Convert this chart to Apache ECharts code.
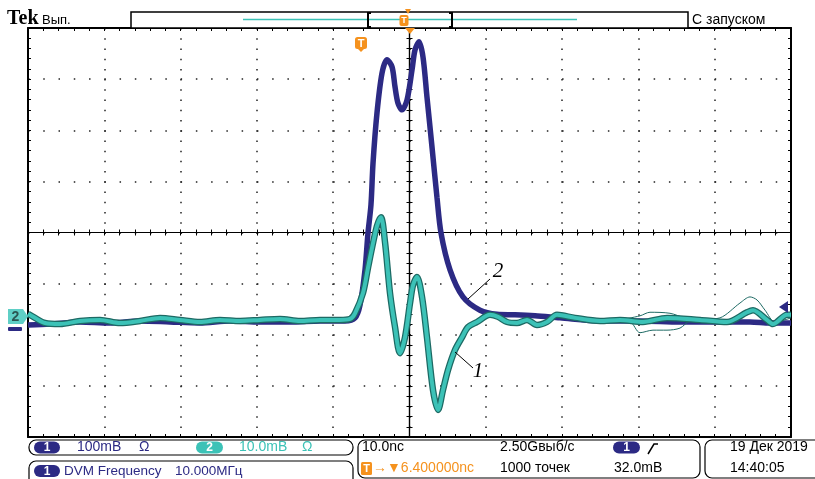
<!DOCTYPE html>
<html>
<head>
<meta charset="utf-8">
<title>Tek scope capture</title>
<script src="https://cdn.jsdelivr.net/npm/echarts@6/dist/echarts.min.js"></script>
<style>
    html, body { margin: 0; padding: 0; background: #fff; }
    #chart { width: 815px; height: 479px; }
</style>
</head>
<body>
<div id="chart"></div>
<script>
// time in ns (10 ns/div), amplitude in screen divisions
const ch1Time = [-50, -47.1, -43.2, -39.3, -35.3, -31.4, -27.5, -23.5, -19.6, -15.7, -11.7, -8.45, -7.14, -6.49, -5.83, -5.44, -5.05, -4.78, -4.26, -3.60, -2.95, -2.29, -1.90, -1.51, -0.98, -0.33, 0.33, 0.72, 1.25, 1.77, 2.29, 2.95, 3.60, 4.13, 5.31, 7.01, 9.24, 11.47, 13.83, 16.45, 19.72, 24.97, 30.21, 35.45, 40.69, 44.63, 47.25, 50];
const ch1Div = [-1.81, -1.79, -1.75, -1.77, -1.73, -1.75, -1.77, -1.73, -1.75, -1.75, -1.73, -1.73, -1.67, -1.42, -0.73, -0.01, 0.54, 1.36, 2.34, 3.12, 3.38, 3.24, 2.85, 2.53, 2.40, 2.59, 3.18, 3.57, 3.73, 3.43, 2.65, 1.67, 0.69, -0.01, -0.73, -1.26, -1.52, -1.60, -1.61, -1.63, -1.67, -1.73, -1.73, -1.75, -1.75, -1.75, -1.77, -1.77];

const ch2Time = [-50, -49.08, -47.77, -45.81, -43.19, -40.56, -37.94, -35.32, -32.70, -30.08, -27.46, -24.84, -22.21, -19.59, -16.97, -14.35, -11.73, -9.11, -7.80, -7.14, -6.09, -5.44, -4.91, -4.26, -3.74, -3.21, -2.56, -1.90, -1.25, -0.59, 0.07, 0.46, 0.98, 1.64, 2.29, 3.08, 3.74, 4.39, 5.05, 5.96, 6.88, 7.67, 8.85, 10.55, 11.60, 12.78, 14.09, 15.40, 16.71, 18.02, 19.33, 21.69, 24.97, 27.59, 30.60, 33.75, 38.07, 41.61, 44.23, 45.02, 46.85, 47.64, 49.48, 50];
const ch2Div = [-1.59, -1.67, -1.77, -1.79, -1.73, -1.71, -1.77, -1.73, -1.67, -1.71, -1.75, -1.71, -1.73, -1.71, -1.69, -1.73, -1.71, -1.71, -1.69, -1.58, -1.18, -0.69, -0.30, 0.13, 0.30, -0.19, -1.18, -1.85, -2.36, -2.05, -1.38, -1.03, -0.87, -1.26, -2.05, -3.08, -3.47, -3.08, -2.69, -2.30, -2.05, -1.85, -1.75, -1.61, -1.65, -1.75, -1.77, -1.71, -1.81, -1.75, -1.61, -1.67, -1.73, -1.71, -1.75, -1.67, -1.71, -1.75, -1.56, -1.52, -1.71, -1.79, -1.61, -1.61];

// stray sweeps of channel 2 (persistence)
const ghostTime = [24.97, 28.90, 30.21, 31.91, 33.75, 35.45, 36.76, 40.69, 43.31, 44.63, 45.55, 46.60, 47.90, 50];
const ghostDiv = [-1.71, -1.75, -1.96, -1.91, -1.91, -1.87, -1.73, -1.67, -1.38, -1.26, -1.32, -1.52, -1.75, -1.67];
const ghost2Time = [27.59, 30.21, 31.52, 34.14, 36.10, 38.07];
const ghost2Div = [-1.71, -1.63, -1.56, -1.58, -1.67, -1.71];

const C1 = '#2c2a84';
const C2 = '#3cc2b7';
const EDGE = '#1d6a64';
const OR = '#f5921e';
const FONT = '"Liberation Sans", Arial, sans-serif';

const pairs = (t, v) => t.map((x, i) => [x, v[i]]);

function xAx (pos, onZero, inside, split) {
    return {
        type: 'value', min: -50, max: 50, interval: 10, position: pos,
        axisLine: { show: true, onZero: onZero, onZeroAxisIndex: onZero ? 0 : null, lineStyle: { color: '#000', width: onZero ? 1.2 : 2 } },
        axisTick: { show: true, inside: inside, length: 3, lineStyle: { color: '#000', width: 1 } },
        minorTick: { show: true, splitNumber: 5, length: 3, lineStyle: { color: '#000', width: 1 } },
        axisLabel: { show: false },
        splitLine: { show: split, lineStyle: { color: '#222', width: 1.5, type: [1.5, 8.72] } }
    };
}
function yAx (pos, onZero, inside, split) {
    return {
        type: 'value', min: -4, max: 4, interval: 1, position: pos,
        axisLine: { show: true, onZero: onZero, onZeroAxisIndex: onZero ? 0 : null, lineStyle: { color: '#000', width: onZero ? 1.2 : 2 } },
        axisTick: { show: true, inside: inside, length: 3, lineStyle: { color: '#000', width: 1 } },
        minorTick: { show: true, splitNumber: 5, length: 3, lineStyle: { color: '#000', width: 1 } },
        axisLabel: { show: false },
        splitLine: { show: split, lineStyle: { color: '#222', width: 1.5, type: [1.5, 13.76] } }
    };
}

function txt (x, y, s, color, font, align) {
    return {
        type: 'text', x: x, y: y, z: 110,
        style: { text: s, fill: color, font: font, textAlign: align || 'left', textVerticalAlign: 'middle' }
    };
}
function pill (x, y, w, h, color, label) {
    return {
        type: 'group', x: x, y: y,
        children: [
            { type: 'rect', z: 100, shape: { x: 0, y: 0, width: w, height: h, r: h / 2 }, style: { fill: color } },
            { type: 'text', z: 110, x: w / 2, y: h / 2 + 0.5, style: { text: label, fill: '#fff', font: 'bold 12px ' + FONT, textAlign: 'center', textVerticalAlign: 'middle' } }
        ]
    };
}
function box (x, y, w, h) {
    return { type: 'rect', z: 100, shape: { x: x, y: y, width: w, height: h, r: 7 }, style: { fill: 'none', stroke: '#000', lineWidth: 1.2 } };
}

const f14 = '14px ' + FONT;
const graphics = [
    // header
    txt(7, 19, 'Tek', '#000', 'bold 20px "Liberation Serif", serif'),
    txt(42, 20, 'Вып.', '#000', '13px ' + FONT),
    { type: 'rect', z: 90, shape: { x: 131, y: 12, width: 557, height: 16 }, style: { fill: '#fff', stroke: '#000', lineWidth: 1.5 } },
    { type: 'line', z: 100, shape: { x1: 243, y1: 19.5, x2: 577, y2: 19.5 }, style: { stroke: C2, lineWidth: 1.5 } },
    { type: 'polyline', z: 100, shape: { points: [[371, 13], [368, 13], [368, 27], [371, 27]] }, style: { stroke: '#000', lineWidth: 2, fill: 'none' } },
    { type: 'polyline', z: 100, shape: { points: [[449, 13], [452, 13], [452, 27], [449, 27]] }, style: { stroke: '#000', lineWidth: 2, fill: 'none' } },
    txt(692, 20, 'С запуском', '#000', f14),
    { type: 'polygon', z: 101, shape: { points: [[405, 9], [411, 9], [408, 14]] }, style: { fill: OR } },
    { type: 'rect', z: 101, shape: { x: 399.5, y: 15, width: 9, height: 11, r: 2 }, style: { fill: OR } },
    txt(404, 20.5, 'T', '#fff', 'bold 9px ' + FONT, 'center'),
    { type: 'polygon', z: 101, shape: { points: [[405, 28], [415, 28], [410, 34]] }, style: { fill: OR } },
    // trigger position marker
    { type: 'rect', z: 101, shape: { x: 355, y: 37, width: 12, height: 12, r: 2.5 }, style: { fill: OR } },
    { type: 'polygon', z: 101, shape: { points: [[357, 48], [365, 48], [361, 52]] }, style: { fill: OR } },
    txt(361, 43.5, 'T', '#fff', 'bold 11px ' + FONT, 'center'),
    // channel ground markers
    { type: 'polygon', z: 101, shape: { points: [[8, 309], [23, 309], [28, 316.5], [23, 324], [8, 324]] }, style: { fill: '#5fcfc6' } },
    txt(15.5, 317, '2', '#2a5552', 'bold 14px ' + FONT, 'center'),
    { type: 'rect', z: 101, shape: { x: 8, y: 327, width: 14, height: 4, r: 1 }, style: { fill: C1 } },
    { type: 'polygon', z: 101, shape: { points: [[779, 307], [788, 301], [788, 313]] }, style: { fill: C1 } },
    // figure labels
    { type: 'line', z: 100, shape: { x1: 468, y1: 299, x2: 490, y2: 279 }, style: { stroke: '#000', lineWidth: 1 } },
    txt(498, 271, '2', '#000', 'italic 21px "Liberation Serif", serif', 'center'),
    { type: 'line', z: 100, shape: { x1: 455, y1: 352, x2: 473, y2: 368 }, style: { stroke: '#000', lineWidth: 1 } },
    txt(478, 371, '1', '#000', 'italic 21px "Liberation Serif", serif', 'center'),
    // status bar
    box(29, 440, 324, 15),
    pill(34, 441.5, 26, 12, C1, '1'),
    txt(77, 447.5, '100mВ', C1, f14),
    txt(139, 447.5, 'Ω', C1, f14),
    pill(196, 441.5, 27, 12, C2, '2'),
    txt(239, 447.5, '10.0mВ', C2, f14),
    txt(302, 447.5, 'Ω', C2, f14),
    box(29, 461, 324, 30),
    pill(34, 465, 26, 12, C1, '1'),
    txt(64, 471, 'DVM Frequency', C1, '13.5px ' + FONT),
    txt(175, 471, '10.000МГц', C1, '13.5px ' + FONT),
    box(358, 440, 342, 38),
    txt(362, 447.5, '10.0nс', '#000', f14),
    { type: 'rect', z: 101, shape: { x: 361, y: 462, width: 11, height: 13, r: 1.5 }, style: { fill: OR } },
    txt(366.5, 468.5, 'T', '#fff', 'bold 11px ' + FONT, 'center'),
    txt(373, 468.5, '→▼6.400000nс', OR, f14),
    txt(500, 447.5, '2.50Gвыб/с', '#000', f14),
    txt(500, 468.5, '1000 точек', '#000', f14),
    pill(613, 441.5, 27, 12, C1, '1'),
    { type: 'polyline', z: 100, shape: { points: [[648, 454], [654, 444], [658, 444]] }, style: { stroke: '#000', lineWidth: 1.5, fill: 'none' } },
    txt(614, 468.5, '32.0mВ', '#000', f14),
    box(705, 440, 130, 38),
    txt(730, 447.5, '19 Дек 2019', '#000', f14),
    txt(730, 468.5, '14:40:05', '#000', f14)
];

const chart = echarts.init(document.getElementById('chart'));
const option = {
    backgroundColor: '#fff',
    animation: false,
    grid: { left: 28, right: 24, top: 28, bottom: 42, containLabel: false },
    xAxis: [
        xAx('bottom', false, true, true),
        xAx('top', false, true, false),
        xAx('bottom', true, true, false),
        xAx('bottom', true, false, false)
    ],
    yAxis: [
        yAx('left', false, true, true),
        yAx('right', false, true, false),
        yAx('left', true, true, false),
        yAx('left', true, false, false)
    ],
    series: [
        {
            name: 'ch1', type: 'line', data: pairs(ch1Time, ch1Div),
            showSymbol: false, smooth: 0.3, z: 3,
            lineStyle: { color: C1, width: 5.5 }
        },
        {
            name: 'ghost', type: 'line', data: pairs(ghostTime, ghostDiv),
            showSymbol: false, smooth: 0.3, z: 4,
            lineStyle: { color: EDGE, width: 1 }
        },
        {
            name: 'ghost2', type: 'line', data: pairs(ghost2Time, ghost2Div),
            showSymbol: false, smooth: 0.3, z: 4,
            lineStyle: { color: EDGE, width: 1 }
        },
        {
            name: 'ch2 edge', type: 'line', data: pairs(ch2Time, ch2Div),
            showSymbol: false, smooth: 0.3, z: 5,
            lineStyle: { color: EDGE, width: 6.5 }
        },
        {
            name: 'ch2', type: 'line', data: pairs(ch2Time, ch2Div),
            showSymbol: false, smooth: 0.3, z: 6,
            lineStyle: { color: C2, width: 4 }
        }
    ],
    graphic: graphics
};
chart.setOption(option);
</script>
</body>
</html>
